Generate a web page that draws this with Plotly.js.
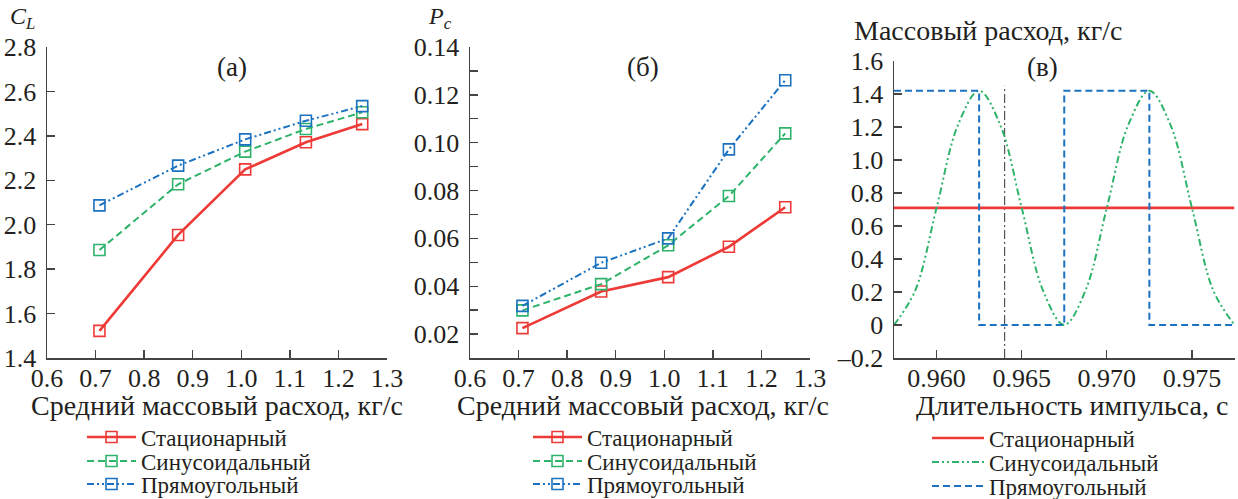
<!DOCTYPE html>
<html>
<head>
<meta charset="utf-8">
<script src="https://cdn.plot.ly/plotly-3.0.1.min.js"></script>
<style>html,body{margin:0;padding:0;background:#fff;overflow:hidden;}#wrap{width:1238px;height:499px;overflow:hidden;}</style>
</head>
<body>
<div id="wrap"><div id="chart"></div></div>
<script>
// ---- data ----
const seriesNames = ['Стационарный', 'Синусоидальный', 'Прямоугольный'];
const massFlow = [0.708, 0.870, 1.008, 1.133, 1.249];
const clStationary = [1.522, 1.954, 2.249, 2.371, 2.453];
const clSine = [1.886, 2.182, 2.329, 2.431, 2.506];
const clRect = [2.087, 2.266, 2.384, 2.468, 2.534];
const pcStationary = [0.0225, 0.0378, 0.0438, 0.0565, 0.0730];
const pcSine = [0.0299, 0.0409, 0.0571, 0.0777, 0.1039];
const pcRect = [0.0318, 0.0498, 0.0600, 0.0972, 0.1261];

const steadyTime = [0.9575, 0.9775];
const steadyFlow = [0.71, 0.71];
const sineTime = [0.9575, 0.95875, 0.96, 0.96125, 0.9625, 0.96375, 0.965, 0.96625, 0.9675,
                  0.96875, 0.97, 0.97125, 0.9725, 0.97375, 0.975, 0.97625, 0.9775];
const sineFlow = [0, 0.21, 0.71, 1.21, 1.42, 1.21, 0.71, 0.21, 0,
                  0.21, 0.71, 1.21, 1.42, 1.21, 0.71, 0.21, 0];
const rectTime = [0.9575, 0.9625, 0.9625, 0.9675, 0.9675, 0.9725, 0.9725, 0.9775];
const rectFlow = [1.42, 1.42, 0, 0, 1.42, 1.42, 0, 0];
const markerTime = [0.964, 0.964];
const markerFlow = [-0.2, 1.45];

const pcTickVals = [0.02, 0.04, 0.06, 0.08, 0.10, 0.12, 0.14];
const pcTickText = ['0.02', '0.04', '0.06', '0.08', '0.10', '0.12', '0.14'];
const pcMinorVals = [0.01, 0.03, 0.05, 0.07, 0.09, 0.11, 0.13];
const flowTickVals = [-0.2, 0, 0.2, 0.4, 0.6, 0.8, 1.0, 1.2, 1.4, 1.6];
const flowTickText = ['\u20130.2', '0', '0.2', '0.4', '0.6', '0.8', '1.0', '1.2', '1.4', '1.6'];
const timeTickVals = [0.960, 0.965, 0.970, 0.975];
const timeTickText = ['0.960', '0.965', '0.970', '0.975'];

// ---- styles ----
const W = 1238, H = 512;           // figure slightly taller than the window so legends never push margins
const RED = '#ee3a36', GREEN = '#2fb36b', BLUE = '#1b72c0';
const FONT = 'Liberation Serif, Times New Roman, serif';
const TXT = '#231f20';
const dashDotDot = '7px,3px,2px,3px,2px,3px';
const dashed = '7px,4px';
const px = v => v / W;
const py = v => 1 - v / H;

function mk(color) {
  return {symbol: 'square-open', size: 11, color: color, line: {color: color, width: 1.6}};
}

const traces = [
  {x: massFlow, y: clStationary, xaxis: 'x', yaxis: 'y', mode: 'lines+markers', name: seriesNames[0],
   line: {color: RED, width: 2.6}, marker: mk(RED), legend: 'legend'},
  {x: massFlow, y: clSine, xaxis: 'x', yaxis: 'y', mode: 'lines+markers', name: seriesNames[1],
   line: {color: GREEN, width: 2, dash: dashed}, marker: mk(GREEN), legend: 'legend2'},
  {x: massFlow, y: clRect, xaxis: 'x', yaxis: 'y', mode: 'lines+markers', name: seriesNames[2],
   line: {color: BLUE, width: 2, dash: dashDotDot}, marker: mk(BLUE), legend: 'legend3'},

  {x: massFlow, y: pcStationary, xaxis: 'x2', yaxis: 'y2', mode: 'lines+markers', name: seriesNames[0],
   line: {color: RED, width: 2.6}, marker: mk(RED), legend: 'legend4'},
  {x: massFlow, y: pcSine, xaxis: 'x2', yaxis: 'y2', mode: 'lines+markers', name: seriesNames[1],
   line: {color: GREEN, width: 2, dash: dashed}, marker: mk(GREEN), legend: 'legend5'},
  {x: massFlow, y: pcRect, xaxis: 'x2', yaxis: 'y2', mode: 'lines+markers', name: seriesNames[2],
   line: {color: BLUE, width: 2, dash: dashDotDot}, marker: mk(BLUE), legend: 'legend6'},

  {x: markerTime, y: markerFlow, xaxis: 'x3', yaxis: 'y3', mode: 'lines', showlegend: false,
   line: {color: '#333', width: 1, dash: '9px,3px,2px,3px'}, hoverinfo: 'skip'},
  {x: steadyTime, y: steadyFlow, xaxis: 'x3', yaxis: 'y3', mode: 'lines', name: seriesNames[0],
   line: {color: RED, width: 2.6}, legend: 'legend7'},
  {x: sineTime, y: sineFlow, xaxis: 'x3', yaxis: 'y3', mode: 'lines', name: seriesNames[1],
   line: {color: GREEN, width: 2, dash: dashDotDot, shape: 'spline', smoothing: 1}, legend: 'legend8'},
  {x: rectTime, y: rectFlow, xaxis: 'x3', yaxis: 'y3', mode: 'lines', name: seriesNames[2],
   line: {color: BLUE, width: 2, dash: dashed}, legend: 'legend9'}
];

const axBase = {
  showgrid: false, zeroline: false, showline: true, linecolor: '#444', linewidth: 1.5,
  ticks: 'inside', ticklen: 8, tickwidth: 1.3, tickcolor: '#444',
  tickfont: {family: FONT, size: 26, color: TXT}, fixedrange: true
};
const xTickShift = {ticklabelstandoff: -4};
const yDomAB = [py(358), py(47)];

function legendAt(x, y, iw) {
  return {x: px(x), y: py(y), xanchor: 'left', yanchor: 'middle', bgcolor: 'rgba(0,0,0,0)',
          borderwidth: 0, itemwidth: iw, font: {family: FONT, size: 23, color: TXT}, tracegroupgap: 0};
}

const layout = {
  width: W, height: H, margin: {l: 0, r: 0, t: 0, b: 0},
  paper_bgcolor: '#fff', plot_bgcolor: '#fff', showlegend: true,
  xaxis: Object.assign({}, axBase, xTickShift, {domain: [px(47), px(387)], anchor: 'y', range: [0.6, 1.3],
    tick0: 0.6, dtick: 0.1, tickformat: '.1f'}),
  yaxis: Object.assign({}, axBase, {domain: yDomAB, anchor: 'x', range: [1.4, 2.8],
    tick0: 1.4, dtick: 0.2, tickformat: '.1f', ticklabelstandoff: 4}),
  xaxis2: Object.assign({}, axBase, xTickShift, {domain: [px(470), px(810)], anchor: 'y2', range: [0.6, 1.3],
    tick0: 0.6, dtick: 0.1, tickformat: '.1f'}),
  yaxis2: Object.assign({}, axBase, {domain: yDomAB, anchor: 'x2', range: [0.01, 0.14],
    tickvals: pcTickVals, ticktext: pcTickText, ticklabelstandoff: 4,
    minor: {tickvals: pcMinorVals, ticks: 'inside', ticklen: 8, tickcolor: '#444', tickwidth: 1.3}}),
  xaxis3: Object.assign({}, axBase, xTickShift, {domain: [px(894), px(1234.5)], anchor: 'y3', range: [0.9575, 0.9775],
    tickvals: timeTickVals, ticktext: timeTickText}),
  yaxis3: Object.assign({}, axBase, {domain: [py(358), py(61)], anchor: 'x3', range: [-0.2, 1.6],
    tickvals: flowTickVals, ticktext: flowTickText, ticklabelstandoff: 4}),
  legend: legendAt(82, 437, 49), legend2: legendAt(82, 461, 49), legend3: legendAt(82, 484, 49),
  legend4: legendAt(528, 437, 49), legend5: legendAt(528, 461, 49), legend6: legendAt(528, 484, 49),
  legend7: legendAt(927, 438, 52), legend8: legendAt(927, 462, 52), legend9: legendAt(927, 486, 52),
  annotations: [
    {text: '(а)', x: px(232), y: py(67), font: {family: FONT, size: 27, color: TXT}},
    {text: '(б)', x: px(643), y: py(67), font: {family: FONT, size: 27, color: TXT}},
    {text: '(в)', x: px(1042), y: py(67), font: {family: FONT, size: 27, color: TXT}},
    {text: '<i>C</i><sub><i>L</i></sub>', x: px(8), y: py(18), xanchor: 'left', font: {family: FONT, size: 24, color: TXT}},
    {text: '<i>P</i><sub><i>c</i></sub>', x: px(426), y: py(18), xanchor: 'left', font: {family: FONT, size: 24, color: TXT}},
    {text: 'Массовый расход, кг/с', x: px(852), y: py(30), xanchor: 'left'},
    {text: 'Средний массовый расход, кг/с', x: px(217), y: py(405)},
    {text: 'Средний массовый расход, кг/с', x: px(643), y: py(405)},
    {text: 'Длительность импульса, с', x: px(1072), y: py(405)}
  ].map(a => Object.assign({xref: 'paper', yref: 'paper', showarrow: false, xanchor: 'center', yanchor: 'middle',
    font: {family: FONT, size: 28, color: TXT}}, a))
};

Plotly.newPlot('chart', traces, layout, {displayModeBar: false, staticPlot: true});
</script>
</body>
</html>
